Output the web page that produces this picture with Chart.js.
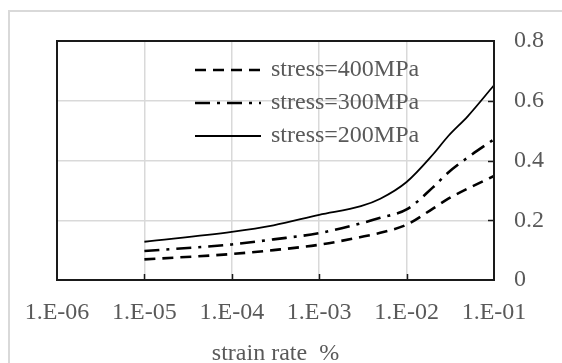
<!DOCTYPE html>
<html>
<head>
<meta charset="utf-8">
<script src="https://cdn.jsdelivr.net/npm/chart.js@4/dist/chart.umd.min.js"></script>
<style>
  html, body { margin:0; padding:0; background:#fff; }
  #wrap { position:relative; width:562px; height:363px; }
</style>
</head>
<body>
<div id="wrap"><canvas id="c"></canvas></div>
<script>
// strain rate (%) sample points
const strainRate = [1e-5, 1e-4, 3e-4, 1e-3, 3e-3, 5e-3, 1e-2, 2e-2, 3e-2, 5e-2, 1e-1];
const s400 = [0.069, 0.087, 0.100, 0.118, 0.144, 0.158, 0.185, 0.239, 0.272, 0.306, 0.348];
const s300 = [0.097, 0.119, 0.136, 0.157, 0.190, 0.208, 0.236, 0.310, 0.360, 0.410, 0.471];
const s200 = [0.128, 0.161, 0.183, 0.218, 0.247, 0.272, 0.328, 0.420, 0.482, 0.548, 0.652];
const seriesNames = ['stress=400MPa', 'stress=300MPa', 'stress=200MPa'];
const xTicks = [1e-6, 1e-5, 1e-4, 1e-3, 1e-2, 1e-1];
const yTicks = [0, 0.2, 0.4, 0.6, 0.8];

const FONT = '"Liberation Serif", "Times New Roman", serif';
const FS = 24;
const TXT = '#595959';
const GRID = '#d9d9d9';

const pts = ys => strainRate.map((x, i) => ({ x, y: ys[i] }));

// frame, inner tick marks and legend (Excel-like)
const decor = {
  id: 'decor',
  beforeDraw(chart) {
    const { ctx } = chart;
    ctx.save();
    ctx.strokeStyle = GRID; ctx.lineWidth = 2;
    ctx.strokeRect(9, 11, 620, 420);
    ctx.restore();
  },
  afterDatasetsDraw(chart) {
    const { ctx, chartArea: a, scales } = chart;
    ctx.save();
    ctx.strokeStyle = '#1a1a1a'; ctx.lineWidth = 1.5;
    ctx.beginPath();
    xTicks.slice(1, -1).forEach(v => {
      const px = Math.round(scales.x.getPixelForValue(v)) + 0.5;
      ctx.moveTo(px, a.bottom); ctx.lineTo(px, a.bottom - 6);
    });
    yTicks.slice(1, -1).forEach(v => {
      const py = Math.round(scales.y.getPixelForValue(v)) + 0.5;
      ctx.moveTo(a.right, py); ctx.lineTo(a.right - 6, py);
    });
    ctx.stroke();
    ctx.lineWidth = 2;
    ctx.strokeRect(a.left, a.top, a.right - a.left, a.bottom - a.top);

    // legend
    ctx.font = FS + 'px ' + FONT;
    ctx.textBaseline = 'alphabetic';
    chart.data.datasets.forEach((ds, i) => {
      const y = 70 + i * 33;
      ctx.strokeStyle = ds.borderColor; ctx.lineWidth = ds.borderWidth;
      ctx.setLineDash(ds.borderDash || []);
      ctx.beginPath(); ctx.moveTo(195, y); ctx.lineTo(261, y); ctx.stroke();
      ctx.setLineDash([]);
      ctx.fillStyle = TXT;
      ctx.fillText(ds.label, 271, y + 6);
    });
    ctx.restore();
  }
};

new Chart(document.getElementById('c'), {
  type: 'line',
  data: {
    datasets: [
      { label: seriesNames[0], data: pts(s400), borderColor: '#000', borderWidth: 2.6, borderDash: [11, 7] },
      { label: seriesNames[1], data: pts(s300), borderColor: '#000', borderWidth: 2.6, borderDash: [15, 7, 3, 7] },
      { label: seriesNames[2], data: pts(s200), borderColor: '#000', borderWidth: 1.8 }
    ]
  },
  options: {
    responsive: true, maintainAspectRatio: false, animation: false,
    layout: { padding: { left: 57, top: 41, right: 0, bottom: 0 } },
    elements: { point: { radius: 0 }, line: { cubicInterpolationMode: 'monotone', fill: false } },
    plugins: { legend: { display: false }, tooltip: { enabled: false } },
    scales: {
      x: {
        type: 'logarithmic', min: 1e-6, max: 1e-1,
        afterBuildTicks: s => { s.ticks = xTicks.map(v => ({ value: v })); },
        afterFit: s => { s.height = 83; },
        grid: { color: GRID, lineWidth: 1.5, drawTicks: false },
        border: { display: false },
        ticks: {
          autoSkip: false, maxRotation: 0, padding: 18, color: TXT,
          font: { family: FONT, size: FS },
          callback: v => '1.E-0' + Math.round(-Math.log10(v))
        },
        title: { display: true, text: 'strain rate  %', color: TXT, font: { family: FONT, size: FS }, padding: { top: 4, bottom: -5 } }
      },
      y: {
        position: 'right', min: 0, max: 0.8,
        afterBuildTicks: s => { s.ticks = yTicks.map(v => ({ value: v })); },
        afterFit: s => { s.width = 68; },
        grid: { color: GRID, lineWidth: 1.5, drawTicks: false },
        border: { display: false },
        ticks: {
          padding: 20, color: TXT, font: { family: FONT, size: FS },
          callback: v => String(+v.toFixed(1))
        }
      }
    }
  },
  plugins: [decor]
});
</script>
</body>
</html>
